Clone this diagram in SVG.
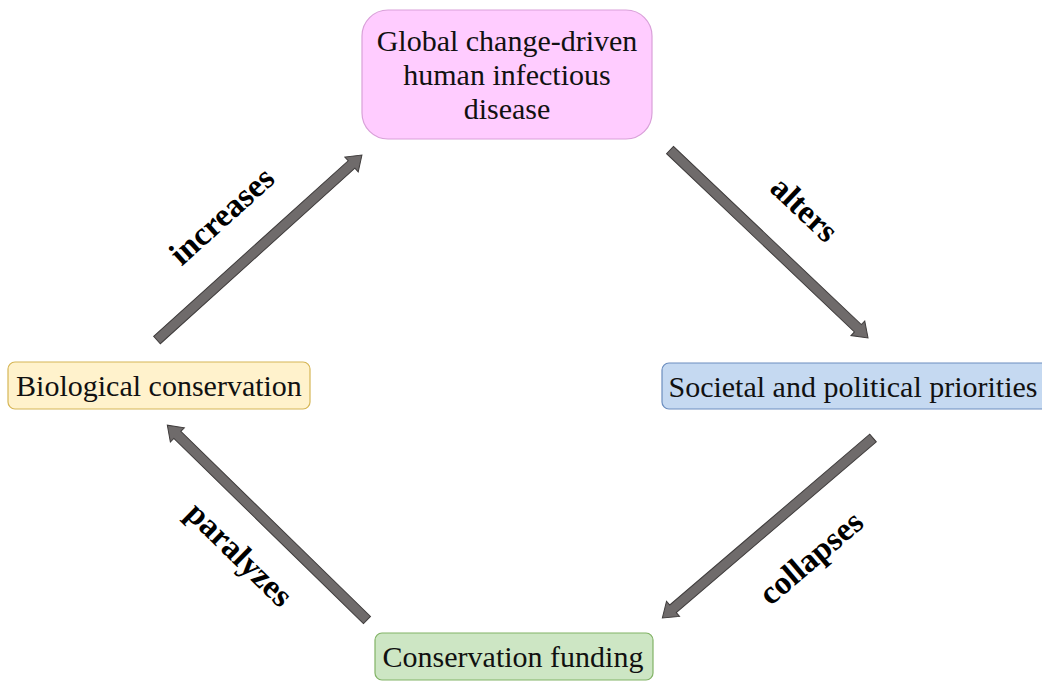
<svg xmlns="http://www.w3.org/2000/svg" width="1042" height="683" viewBox="0 0 1042 683">
<style>
.node text{font-family:"Liberation Serif","Times New Roman",serif;font-size:30px;fill:#111;text-anchor:middle}
.lbl{font-family:"Liberation Serif","Times New Roman",serif;font-size:33px;font-weight:bold;fill:#000;text-anchor:middle}
.arr{fill:#6F6B6B;stroke:#3F3C3C;stroke-width:1}
</style>
<rect width="1042" height="683" fill="#fff"/>
<g id="connectors">
<g id="e1"><path class="arr" transform="translate(157,340) rotate(-42.06)" d="M0,-5 H262 V-10 L276,0 L262,10 V5 H0 Z"/><text class="lbl" transform="translate(229,224) rotate(-42)">increases</text></g>
<g id="e2"><path class="arr" transform="translate(670,150) rotate(43.5)" d="M0,-5 H259 V-10 L273,0 L259,10 V5 H0 Z"/><text class="lbl" transform="translate(797,217) rotate(43.5)">alters</text></g>
<g id="e3"><path class="arr" transform="translate(873,438) rotate(139.5)" d="M0,-5 H263 V-10 L277,0 L263,10 V5 H0 Z"/><text class="lbl" transform="translate(818,566) rotate(-40.5)">collapses</text></g>
<g id="e4"><path class="arr" transform="translate(367,620) rotate(-135.7)" d="M0,-5 H265 V-10 L279,0 L265,10 V5 H0 Z"/><text class="lbl" transform="translate(232,562) rotate(44.3)">paralyzes</text></g>
</g>
<g id="n1" class="node"><rect x="362" y="10" width="290" height="129" rx="26" fill="#FFCCFF" stroke="#D9A0D9" stroke-width="1.2"/><text x="507" y="51">Global change-driven</text><text x="507" y="85">human infectious</text><text x="507" y="119">disease</text></g>
<g id="n2" class="node"><rect x="662" y="363" width="390" height="46" rx="7" fill="#C5D9F1" stroke="#6C8EBF" stroke-width="1.2"/><text x="853" y="397">Societal and political priorities</text></g>
<g id="n3" class="node"><rect x="375" y="633" width="278" height="47" rx="7" fill="#CDE6C4" stroke="#82B366" stroke-width="1.2"/><text x="513" y="667">Conservation funding</text></g>
<g id="n4" class="node"><rect x="8" y="362" width="302" height="47" rx="7" fill="#FFF2CC" stroke="#D6B656" stroke-width="1.2"/><text x="159" y="396">Biological conservation</text></g>
</svg>
